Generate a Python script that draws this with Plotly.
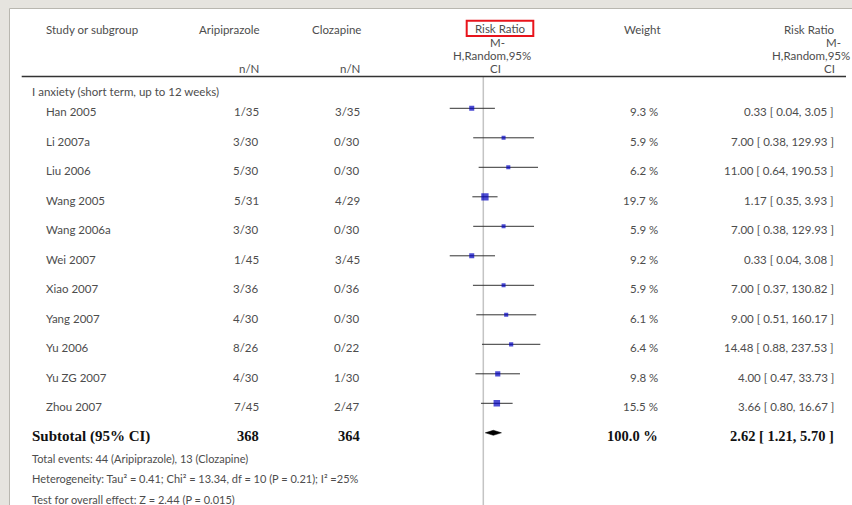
import plotly.graph_objects as go

# Forest plot: Aripiprazole vs Clozapine, anxiety (short term, up to 12 weeks)
studies = ["Han 2005", "Li 2007a", "Liu 2006", "Wang 2005", "Wang 2006a", "Wei 2007",
           "Xiao 2007", "Yang 2007", "Yu 2006", "Yu ZG 2007", "Zhou 2007"]
aripiprazole = ["1/35", "3/30", "5/30", "5/31", "3/30", "1/45", "3/36", "4/30", "8/26", "4/30", "7/45"]
clozapine = ["3/35", "0/30", "0/30", "4/29", "0/30", "3/45", "0/36", "0/30", "0/22", "1/30", "2/47"]
weight = [9.3, 5.9, 6.2, 19.7, 5.9, 9.2, 5.9, 6.1, 6.4, 9.8, 15.5]
rr = [0.33, 7.00, 11.00, 1.17, 7.00, 0.33, 7.00, 9.00, 14.48, 4.00, 3.66]
rr_lo = [0.04, 0.38, 0.64, 0.35, 0.38, 0.04, 0.37, 0.51, 0.88, 0.47, 0.80]
rr_hi = [3.05, 129.93, 190.53, 3.93, 129.93, 3.08, 130.82, 160.17, 237.53, 33.73, 16.67]

subtotal_n = [368, 364]
subtotal_weight = 100.0
subtotal_rr = [2.62, 1.21, 5.70]

W, H = 852, 505
TXT = "#4d4d4d"
SANS = "Lato"
SERIF = "Liberation Serif"


def px(x):
    return x / W


def py(y):
    return 1 - y / H


rows = list(range(len(studies)))
sub_row = len(studies)

fig = go.Figure()

# confidence-interval whiskers
wx, wy = [], []
for r, a, b in zip(rows, rr_lo, rr_hi):
    wx += [a, b, None]
    wy += [r, r, None]
fig.add_trace(go.Scatter(x=wx, y=wy, mode="lines", line=dict(color="#333333", width=1),
                         hoverinfo="skip", showlegend=False))

# study point estimates, square size scaled by weight
fig.add_trace(go.Scatter(x=rr, y=rows, mode="markers",
                         marker=dict(symbol="square", color="#0000c0",
                                     size=[1.65 * w ** 0.5 for w in weight],
                                     line=dict(width=0)),
                         showlegend=False))

# pooled estimate diamond
est, lo, hi = subtotal_rr
dh = 0.085
fig.add_trace(go.Scatter(x=[lo, est, hi, est, lo],
                         y=[sub_row, sub_row - dh, sub_row, sub_row + dh, sub_row],
                         mode="lines", fill="toself", fillcolor="black",
                         line=dict(color="black", width=0.5), showlegend=False))

shapes = [
    # white panel
    dict(type="rect", xref="paper", yref="paper", x0=px(9.5), x1=px(860), y0=py(8.5), y1=py(520),
         fillcolor="white", line=dict(color="#b9b7b0", width=1), layer="below"),
    # header rule
    dict(type="line", xref="paper", yref="paper", x0=px(21.7), x1=px(846), y0=py(76.5), y1=py(76.5),
         line=dict(color="#333333", width=1.5)),
    # line of no effect
    dict(type="line", xref="x", yref="paper", x0=1, x1=1, y0=0, y1=py(77),
         line=dict(color="#c4c4c4", width=1.5), layer="below"),
    # highlight box
    dict(type="rect", xref="paper", yref="paper", x0=px(466.7), x1=px(533.3), y0=py(20.7), y1=py(36),
         line=dict(color="#e8141c", width=2)),
]

ann = []


def text(x, y, s, anchor="left", size=11.5, color=TXT, family=SANS, yref="paper", yshift=0):
    ann.append(dict(x=px(x), y=(py(y) if yref == "paper" else y), xref="paper", yref=yref,
                    text=s, showarrow=False, xanchor=anchor, yanchor="middle",
                    font=dict(family=family, size=size, color=color), yshift=yshift))


# column headers
text(43.5, 29, "Study or subgroup")
text(262, 29, "Aripiprazole", "right")
text(362.5, 29, "Clozapine", "right")
text(500, 28.5, "Risk Ratio", "center")
text(497, 43, "M-", "center")
text(492, 55.5, "H,Random,95%", "center")
text(496, 68, "CI", "center")
text(642, 29, "Weight", "center")
text(836, 29, "Risk Ratio", "right")
text(843, 43, "M-", "right")
text(852, 55.5, "H,Random,95%", "right")
text(837, 68, "CI", "right")
text(261, 68, "n/N", "right")
text(362, 68, "n/N", "right")

text(30, 92, "I anxiety (short term, up to 12 weeks)")

for r, s, a, c, w, e, l, h in zip(rows, studies, aripiprazole, clozapine, weight, rr, rr_lo, rr_hi):
    text(43.5, r, s, yref="y", yshift=-3.4)
    text(261, r, a, "right", yref="y", yshift=-3.4)
    text(362, r, c, "right", yref="y", yshift=-3.4)
    text(659.5, r, f"{w:.1f} %", "right", yref="y", yshift=-3.4)
    text(836, r, f"{e:.2f} [ {l:.2f}, {h:.2f} ]", "right", yref="y", yshift=-3.4)

# subtotal row
BOLD = dict(size=14.5, color="#111111", family=SERIF)
text(30, sub_row, "<b>Subtotal (95% CI)</b>", yref="y", yshift=-3.4, size=15, color="#111111", family=SERIF)
text(261, sub_row, f"<b>{subtotal_n[0]}</b>", "right", yref="y", yshift=-3.4, **BOLD)
text(362, sub_row, f"<b>{subtotal_n[1]}</b>", "right", yref="y", yshift=-3.4, **BOLD)
text(659.5, sub_row, f"<b>{subtotal_weight:.1f} %</b>", "right", yref="y", yshift=-3.4, **BOLD)
text(836, sub_row, f"<b>{est:.2f} [ {lo:.2f}, {hi:.2f} ]</b>", "right", yref="y", yshift=-3.4, **BOLD)

text(30, 458, "Total events: 44 (Aripiprazole), 13 (Clozapine)", size=11)
text(30, 478, "Heterogeneity: Tau² = 0.41; Chi² = 13.34, df = 10 (P = 0.21); I² =25%", size=11)
text(30, 499, "Test for overall effect: Z = 2.44 (P = 0.015)", size=11)

# row scale: marker centre pixel = 108.3 + 29.5 * row
y_top = (0 - 108.3) / 29.5
y_bot = (H - 108.3) / 29.5

fig.update_layout(
    width=W, height=H, autosize=False,
    margin=dict(l=0, r=0, t=0, b=0, pad=0),
    paper_bgcolor="#e6e4df", plot_bgcolor="rgba(0,0,0,0)",
    shapes=shapes, annotations=ann, showlegend=False,
    xaxis=dict(type="log", range=[-3, 3], domain=[(483.3 - 72) / W, (483.3 + 72) / W],
               visible=False, showgrid=False, zeroline=False),
    yaxis=dict(range=[y_bot, y_top], domain=[0, 1], visible=False, showgrid=False, zeroline=False),
)

fig.write_html("out.html")
